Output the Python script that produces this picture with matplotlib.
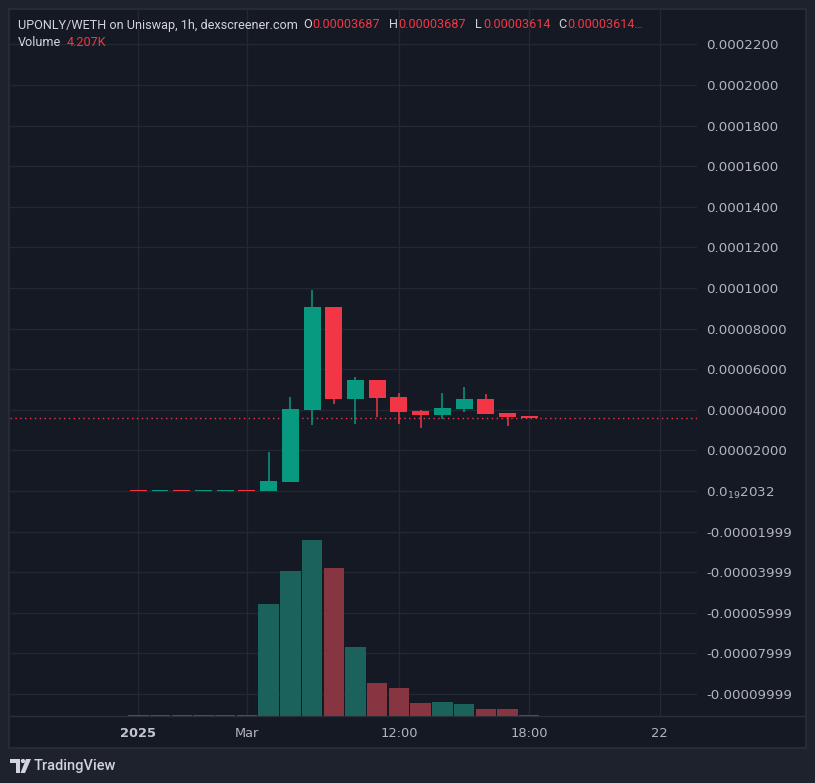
import matplotlib
matplotlib.use("Agg")
import matplotlib.pyplot as plt
from matplotlib.patches import Rectangle, Polygon, Circle
from matplotlib.lines import Line2D

W, H = 815, 783

# candle data (1h bars), index = bar number
opens  = [2.03e-20, 2.03e-20, 2.03e-20, 2.03e-20, 2.03e-20, 2.03e-20,
          0.0000000, 0.0000046, 0.0000400, 0.0000906, 0.0000455, 0.0000547,
          0.0000463, 0.0000394, 0.0000376, 0.0000405, 0.0000453, 0.0000384, 0.00003687]
highs  = [2.03e-20, 2.03e-20, 2.03e-20, 2.03e-20, 2.03e-20, 2.03e-20,
          0.0000192, 0.0000463, 0.0000990, 0.0000906, 0.0000562, 0.0000547,
          0.0000483, 0.0000399, 0.0000483, 0.0000512, 0.0000478, 0.0000384, 0.00003687]
lows   = [2.03e-20, 2.03e-20, 2.03e-20, 2.03e-20, 2.03e-20, 2.03e-20,
          0.0000000, 0.0000046, 0.0000327, 0.0000430, 0.0000332, 0.0000365,
          0.0000332, 0.0000312, 0.0000356, 0.0000391, 0.0000381, 0.0000322, 0.00003614]
closes = [2.03e-20, 2.03e-20, 2.03e-20, 2.03e-20, 2.03e-20, 2.03e-20,
          0.0000049, 0.0000404, 0.0000906, 0.0000455, 0.0000547, 0.0000460,
          0.0000391, 0.0000376, 0.0000409, 0.0000453, 0.0000381, 0.0000366, 0.00003614]
up     = [0, 1, 0, 1, 1, 0, 1, 1, 1, 0, 1, 0, 0, 0, 1, 1, 0, 0, 0]
volumes = [3, 3, 3, 3, 3, 3, 467, 604, 733, 617, 288, 138, 117, 54, 58, 50, 29, 29, 4.207]  # K

last_price = 0.00003614

xtick_pos = [0, 5, 12, 18, 24]
xtick_labels = ["2025", "Mar", "12:00", "18:00", "22"]

ytick_pos = [0.00022, 0.0002, 0.00018, 0.00016, 0.00014, 0.00012, 0.0001,
             0.00008, 0.00006, 0.00004, 0.00002, 0.0,
             -0.00002, -0.00004, -0.00006, -0.00008, -0.0001]
ytick_labels = ["0.0002200", "0.0002000", "0.0001800", "0.0001600", "0.0001400",
                "0.0001200", "0.0001000", "0.00008000", "0.00006000", "0.00004000",
                "0.00002000", r"0.0$_{19}$2032",
                "-0.00001999", "-0.00003999", "-0.00005999", "-0.00007999", "-0.00009999"]

GREEN = "#089981"
RED = "#f23645"
VGREEN = "#1b625c"
VRED = "#863541"
BG = "#151924"
OUTER = "#1e222d"
GRID = "#242833"
TXT = "#b2b5be"


def px(x, y):
    return (x / W, 1 - y / H)


fig = plt.figure(figsize=(W / 100, H / 100), dpi=100, facecolor=OUTER)

# chart panel
fig.patches.append(Rectangle(px(9, 748), 797 / W, 739 / H, transform=fig.transFigure,
                             facecolor=BG, edgecolor="#2a2e39", lw=1.2, zorder=-10))
fig.lines.append(Line2D([10 / W, 805 / W], [1 - 716 / H] * 2, transform=fig.transFigure,
                        color="#2a2e39", lw=1, zorder=-5))

ax = fig.add_axes([10 / W, (H - 716) / H, 687 / W, 706 / H])
ax.patch.set_visible(False)
vax = ax.twinx()

step = 21.72
ax.set_xlim((10 - 138.3) / step, (697 - 138.3) / step)
ppx = 0.00002 / 40.6
ax.set_ylim(-(716 - 491) * ppx, (491 - 10) * ppx)

for s in ax.spines.values():
    s.set_visible(False)

ax.yaxis.tick_right()
ax.set_yticks(ytick_pos)
ax.set_yticklabels(ytick_labels)
ax.set_xticks(xtick_pos)
ax.set_xticklabels(xtick_labels)
ax.tick_params(axis="y", length=0, pad=6.5, labelsize=9.6, labelcolor=TXT,
               left=False, labelleft=False, right=True, labelright=True)
ax.tick_params(axis="x", length=0, pad=8, labelsize=9.4, labelcolor=TXT)
for lab in ax.get_xticklabels():
    if lab.get_text() == "2025":
        lab.set_fontweight("bold")
        lab.set_color("#c3c6ce")
ax.grid(True, color=GRID, lw=1)
ax.set_axisbelow(True)

# candles
min_body = 1.1 * ppx
for i in range(len(opens)):
    col = GREEN if up[i] else RED
    ax.vlines(i, lows[i], highs[i], color=col, lw=1.1, zorder=3)
    bot = min(opens[i], closes[i])
    hgt = max(abs(closes[i] - opens[i]), min_body)
    ax.bar(i, hgt, bottom=bot, width=0.78, color=col, zorder=4)

ax.axhline(last_price, color=RED, lw=1, ls=(0, (1, 2.5)), zorder=2)

# volume overlay
vax.set_ylim(0, 733 * 706 / 176)
vax.set_axis_off()
vcols = [VGREEN if u else VRED for u in up]
vax.bar(range(len(volumes)), volumes, width=0.94, color=vcols, zorder=2)

# header
fs = 9.1
yh = 1 - 25 / H
fig.text(18 / W, yh, "UPONLY/WETH on Uniswap, 1h, dexscreener.com", color="#d1d4dc",
         fontsize=fs, family="Roboto", va="center")
for lx, letter, val in [(303, "O", "0.00003687"), (389, "H", "0.00003687"),
                        (474.5, "L", "0.00003614"), (558, "C", "0.00003614\u2026")]:
    fig.text(lx / W, yh, letter, color="#d1d4dc", fontsize=fs, family="Roboto", va="center")
    fig.text((lx + 9) / W, yh, val, color=RED, fontsize=fs, family="Roboto", va="center")
yv = 1 - 43 / H
fig.text(18 / W, yv, "Volume", color="#d1d4dc", fontsize=fs, family="Roboto", va="center")
fig.text(66.5 / W, yv, "4.207K", color=RED, fontsize=fs, family="Roboto", va="center")

# TradingView mark
lc = "#d1d4dc"
fig.patches.append(Polygon([px(10, 759), px(20, 759), px(20, 773), px(16, 773), px(16, 763), px(10, 763)],
                           closed=True, transform=fig.transFigure, facecolor=lc))
fig.patches.append(Circle(px(23, 761), 2.2 / W, transform=fig.transFigure, facecolor=lc))
fig.patches.append(Polygon([px(26, 759), px(31, 759), px(25, 773), px(20.5, 773)],
                           closed=True, transform=fig.transFigure, facecolor=lc))
fig.text(34 / W, 1 - 766 / H, "TradingView", color=lc, fontsize=10.5, family="Roboto",
         fontweight="medium", va="center")

fig.savefig("out.png", dpi=100, facecolor=OUTER)
